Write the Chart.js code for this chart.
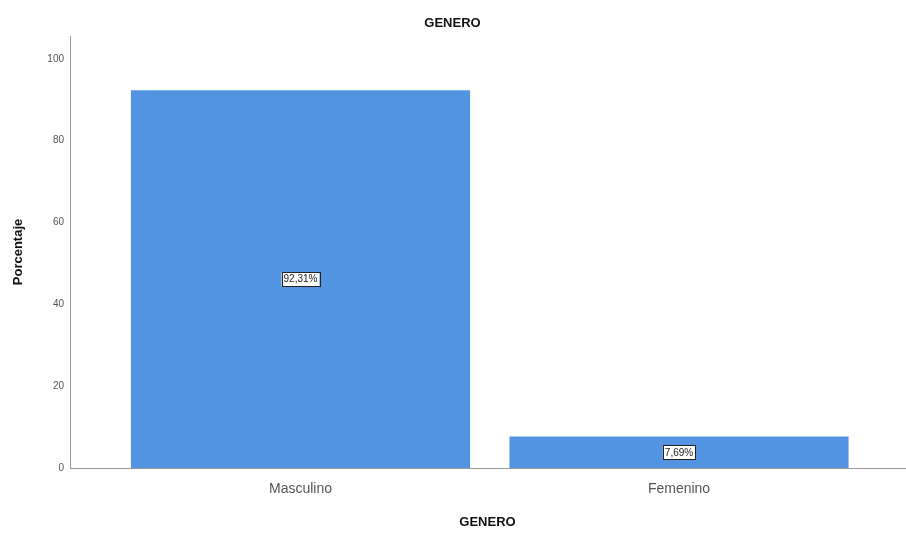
<!DOCTYPE html>
<html>
<head>
<meta charset="utf-8">
<script src="https://cdn.jsdelivr.net/npm/chart.js@4"></script>
<style>
  html, body { margin: 0; padding: 0; background: #fff; }
  #wrap { width: 906px; height: 533px; }
</style>
</head>
<body>
<div id="wrap"><canvas id="barChart" width="906" height="533"></canvas></div>
<script>
const categories = ['Masculino', 'Femenino'];
const percentages = [92.31, 7.69];
const yTicks = [0, 20, 40, 60, 80, 100];

const FONT = "'Liberation Sans', Arial, sans-serif";

// white boxed percentage label in the middle of each bar
const valueLabels = {
  id: 'valueLabels',
  afterDatasetsDraw(chart) {
    const ctx = chart.ctx;
    const meta = chart.getDatasetMeta(0);
    ctx.save();
    ctx.font = '10px ' + FONT;
    ctx.textAlign = 'center';
    ctx.textBaseline = 'middle';
    meta.data.forEach((bar, i) => {
      const txt = percentages[i].toFixed(2).replace('.', ',') + '%';
      const cy = (bar.y + bar.base) / 2;
      const w = ctx.measureText(txt).width + 4;
      const h = 14;
      ctx.fillStyle = '#fff';
      ctx.fillRect(bar.x - w / 2, cy - h / 2, w, h);
      ctx.strokeStyle = '#222';
      ctx.lineWidth = 1;
      ctx.strokeRect(Math.round(bar.x - w / 2) + 0.5, Math.round(cy - h / 2) + 0.5, Math.round(w), h);
      ctx.fillStyle = '#222';
      ctx.fillText(txt, bar.x, cy + 0.5);
    });
    ctx.restore();
  }
};

const ctx = document.getElementById('barChart').getContext('2d');
new Chart(ctx, {
  type: 'bar',
  data: {
    datasets: [{
      label: 'Porcentaje',
      data: percentages.map((v, i) => ({ x: i, y: v })),
      backgroundColor: '#5294e2',
      borderWidth: 0,
      barPercentage: 0.896,
      categoryPercentage: 1
    }]
  },
  options: {
    responsive: false,
    animation: false,
    layout: { padding: { left: 0, right: 1, top: 0, bottom: 0 } },
    plugins: {
      legend: { display: false },
      tooltip: { enabled: false },
      title: {
        display: true,
        text: 'GENERO',
        color: '#111',
        font: { family: FONT, size: 13, weight: 'bold' },
        padding: { top: 16, bottom: 4.4 }
      }
    },
    scales: {
      x: {
        type: 'linear',
        offset: false,
        min: -0.609,
        max: 1.597,
        grid: { display: false },
        border: { color: '#999', width: 1 },
        ticks: {
          stepSize: 1,
          includeBounds: false,
          color: '#555',
          font: { family: FONT, size: 14 },
          padding: 5,
          callback: v => categories[v] ?? ''
        },
        title: {
          display: true,
          text: 'GENERO',
          color: '#111',
          font: { family: FONT, size: 13, weight: 'bold' },
          padding: { top: 0, bottom: 3 }
        },
        afterFit: s => { s.height = 65; }
      },
      y: {
        min: 0,
        max: 105.6,
        grid: { display: false },
        border: { color: '#999', width: 1 },
        afterBuildTicks: s => { s.ticks = yTicks.map(v => ({ value: v })); },
        ticks: {
          color: '#555',
          font: { family: FONT, size: 10 },
          padding: -2
        },
        title: {
          display: true,
          text: 'Porcentaje',
          color: '#111',
          font: { family: FONT, size: 13, weight: 'bold' },
          padding: { top: 11, bottom: 0 }
        },
        afterFit: s => { s.width = 70; }
      }
    }
  },
  plugins: [valueLabels]
});
</script>
</body>
</html>
